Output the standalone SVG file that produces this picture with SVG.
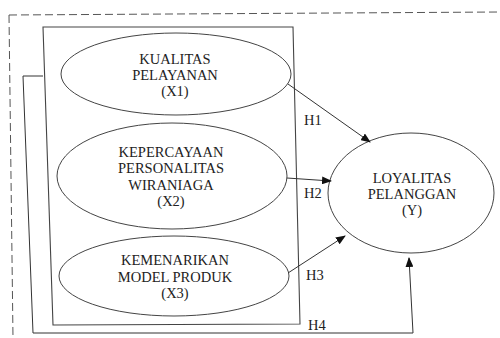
<svg xmlns="http://www.w3.org/2000/svg" width="500" height="338" viewBox="0 0 500 338">
<defs>
<marker id="arr" markerWidth="10" markerHeight="8" refX="9" refY="4" orient="auto" markerUnits="userSpaceOnUse">
<path d="M0,0 L10,4 L0,8 Z" fill="#111"/>
</marker>
<style>
.e{fill:none;stroke:#444;stroke-width:1}
.l{fill:none;stroke:#444;stroke-width:1.1}
.c{fill:none;stroke:#333;stroke-width:1}
.t{font-family:"Liberation Serif","Times New Roman",serif;font-size:14.5px;fill:#222;text-anchor:middle}
.h{font-family:"Liberation Serif","Times New Roman",serif;font-size:14.5px;fill:#222}
.d{fill:none;stroke:#555;stroke-width:1;stroke-dasharray:8 4}
</style>
</defs>
<rect width="500" height="338" fill="#fff"/>
<path class="d" d="M9,15 L500,12 M9,15 L13,338"/>
<path class="l" d="M43,27 L293,27 L300,324 L53,325 Z"/>
<g id="x1">
<ellipse class="e" cx="176" cy="74" rx="115" ry="41"/>
<text class="t" x="175" y="64">KUALITAS</text>
<text class="t" x="175" y="80">PELAYANAN</text>
<text class="t" x="175" y="96">(X1)</text>
</g>
<g id="x2">
<ellipse class="e" cx="172" cy="176" rx="115" ry="53"/>
<text class="t" x="171" y="157">KEPERCAYAAN</text>
<text class="t" x="171" y="173">PERSONALITAS</text>
<text class="t" x="171" y="190">WIRANIAGA</text>
<text class="t" x="171" y="206">(X2)</text>
</g>
<g id="x3">
<ellipse class="e" cx="174" cy="276" rx="115" ry="40"/>
<text class="t" x="175" y="265">KEMENARIKAN</text>
<text class="t" x="175" y="282">MODEL PRODUK</text>
<text class="t" x="175" y="298">(X3)</text>
</g>
<g id="y">
<ellipse class="e" cx="411" cy="193" rx="83" ry="60"/>
<text class="t" x="412" y="183">LOYALITAS</text>
<text class="t" x="412" y="199">PELANGGAN</text>
<text class="t" x="412" y="215">(Y)</text>
</g>
<g id="connectors">
<path class="c" d="M288,84 L370,142" marker-end="url(#arr)"/>
<path class="c" d="M287,178 L331,181" marker-end="url(#arr)"/>
<path class="c" d="M288,273 L345,236" marker-end="url(#arr)"/>
<path class="c" d="M43,76 L23,76 L33,333 L413,333 L409,258" marker-end="url(#arr)"/>
</g>
<text class="h" x="304" y="125">H1</text>
<text class="h" x="304" y="198">H2</text>
<text class="h" x="306" y="280">H3</text>
<text class="h" x="308" y="330">H4</text>
</svg>
